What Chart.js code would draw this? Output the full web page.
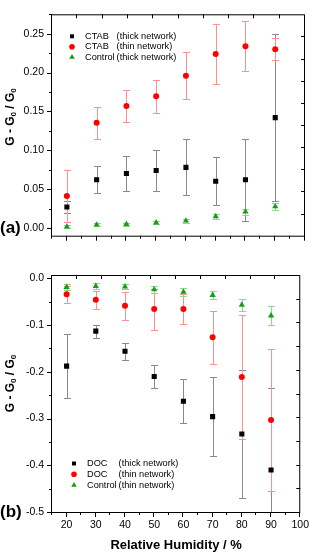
<!DOCTYPE html>
<html>
<head>
<meta charset="utf-8">
<script src="https://cdn.jsdelivr.net/npm/chart.js@4/dist/chart.umd.min.js"></script>
<style>
  html, body { margin: 0; padding: 0; background: #fff; }
  #wrap { position: relative; width: 316px; height: 553px; overflow: hidden; }
  .panel { position: absolute; left: 0; width: 316px; }
  #panelA { top: 0; height: 250px; }
  #panelB { top: 250px; height: 303px; }
</style>
</head>
<body>
<div id="wrap">
  <div class="panel" id="panelA"><canvas id="chartA" width="316" height="250"></canvas></div>
  <div class="panel" id="panelB"><canvas id="chartB" width="316" height="303"></canvas></div>
</div>
<script>
// ---------------- data ----------------
const humidity = [20, 30, 40, 50, 60, 70, 80, 90];

// panel (a)
const ctabThick       = [0.027, 0.062, 0.070, 0.074, 0.078, 0.060, 0.062, 0.142];
const ctabThickErr    = [0.008, 0.0175, 0.022, 0.026, 0.036, 0.031, 0.053, 0.107];
const ctabThin        = [0.041, 0.1355, 0.157, 0.1695, 0.196, 0.224, 0.234, 0.230];
const ctabThinErr     = [0.033, 0.0205, 0.020, 0.021, 0.030, 0.039, 0.032, 0.014];
const controlThick    = [0.0016, 0.004, 0.0048, 0.0068, 0.0092, 0.0148, 0.0208, 0.0276];
const controlThickErr = [0.002, 0.002, 0.002, 0.002, 0.0025, 0.003, 0.004, 0.004];

// panel (b)
const docThick        = [-0.188, -0.113, -0.156, -0.210, -0.263, -0.296, -0.333, -0.410];
const docThickErr     = [0.069, 0.014, 0.018, 0.025, 0.047, 0.084, 0.137, 0.176];
const docThin         = [-0.034, -0.046, -0.059, -0.066, -0.066, -0.126, -0.211, -0.303];
const docThinErr      = [0.018, 0.019, 0.030, 0.044, 0.032, 0.057, 0.133, 0.152];
const controlThin     = [-0.019, -0.017, -0.018, -0.024, -0.029, -0.036, -0.057, -0.080];
const controlThinErr  = [0.007, 0.006, 0.006, 0.007, 0.008, 0.008, 0.012, 0.020];

const xTitle = 'Relative Humidity / %';

const FONT = '"Liberation Sans", Arial, sans-serif';

// -------------- helpers --------------
function points(vals) {
  return humidity.map((x, i) => ({ x, y: vals[i] }));
}

function series(label, vals, errs, style) {
  return Object.assign({
    label,
    data: points(vals),
    errors: errs,
    borderWidth: 0,
    pointBorderWidth: 0,
    showLine: false
  }, style);
}

const blackSq = { pointStyle: 'rect', pointRadius: 3.6, backgroundColor: '#000', errColor: '#8a8a8a', legendRadius: 2.8, order: 3 };
const redDot  = { pointStyle: 'circle', pointRadius: 3, backgroundColor: '#ff0000', errColor: '#ff8e8e', legendRadius: 2.8, order: 2 };
const greenTr = { pointStyle: 'triangle', pointRadius: 3.6, backgroundColor: '#13a013', errColor: '#8ed88e', legendRadius: 3.2, order: 1 };

// -------------- plugins --------------
const errorBars = {
  id: 'errorBars',
  beforeDatasetsDraw(chart) {
    const { ctx, chartArea: a, scales: { x, y } } = chart;
    ctx.save();
    ctx.beginPath();
    ctx.rect(a.left, a.top, a.right - a.left, a.bottom - a.top);
    ctx.clip();
    ctx.lineWidth = 1;
    chart.data.datasets.forEach(ds => {
      ctx.strokeStyle = ds.errColor;
      ds.data.forEach((p, i) => {
        const e = ds.errors[i];
        const px = Math.round(x.getPixelForValue(p.x)) + 0.5;
        const top = Math.round(y.getPixelForValue(p.y + e)) + 0.5;
        const bot = Math.round(y.getPixelForValue(p.y - e)) + 0.5;
        ctx.beginPath();
        ctx.moveTo(px, top); ctx.lineTo(px, bot);
        ctx.moveTo(px - 3.5, top); ctx.lineTo(px + 3.5, top);
        ctx.moveTo(px - 3.5, bot); ctx.lineTo(px + 3.5, bot);
        ctx.stroke();
      });
    });
    ctx.restore();
  }
};

function isMultiple(v, step) {
  const r = Math.abs(v / step - Math.round(v / step));
  return r < 1e-6;
}

const frameTicks = {
  id: 'frameTicks',
  afterDatasetsDraw(chart, args, opts) {
    const { ctx, chartArea: a, scales: { x, y } } = chart;
    ctx.save();
    ctx.strokeStyle = '#000';
    ctx.lineWidth = 1;
    ctx.strokeRect(a.left - 0.5, a.top + 0.5, a.right - a.left, a.bottom - a.top);
    ctx.beginPath();
    // bottom axis, outward
    for (let v = Math.ceil(x.min / opts.xMinor) * opts.xMinor; v <= x.max + 1e-9; v += opts.xMinor) {
      const px = Math.round(x.getPixelForValue(v)) - 0.5;
      const len = isMultiple(v, opts.xMajor) ? 5 : 3;
      ctx.moveTo(px, a.bottom); ctx.lineTo(px, a.bottom + len);
    }
    // left axis, outward
    for (let v = Math.ceil(y.min / opts.yMinor) * opts.yMinor; v <= y.max + 1e-9; v += opts.yMinor) {
      const py = Math.round(y.getPixelForValue(v)) + 0.5;
      const len = isMultiple(v, opts.yMajor) ? 5 : 3;
      ctx.moveTo(a.left, py); ctx.lineTo(a.left - len, py);
    }
    // top and right: ten equal divisions, inward
    const w = a.right - a.left, h = a.bottom - a.top;
    for (let i = 1; i < 10; i++) {
      const px = Math.round(a.left + w * i / 10) - 0.5;
      ctx.moveTo(px, a.top); ctx.lineTo(px, a.top + 4);
      const py = Math.round(a.top + h * i / 10) + 0.5;
      ctx.moveTo(a.right, py); ctx.lineTo(a.right - 4, py);
    }
    ctx.stroke();
    ctx.restore();
  }
};

const insetLegend = {
  id: 'insetLegend',
  afterDraw(chart, args, opts) {
    const { ctx, chartArea: a } = chart;
    ctx.save();
    ctx.font = '9.2px ' + FONT;
    ctx.textBaseline = 'middle';
    const x0 = a.left + opts.dx;
    const y0 = opts.fromBottom ? a.bottom - opts.dy : a.top + opts.dy;
    const textX = x0 + 13;
    const parenX = textX + ctx.measureText('Control').width + 2;
    chart.data.datasets.forEach((ds, i) => {
      const yy = y0 + i * opts.rowH;
      ctx.fillStyle = ds.backgroundColor;
      Chart.helpers.drawPoint(ctx, { pointStyle: ds.pointStyle, radius: ds.legendRadius, borderWidth: 0, rotation: 0 }, x0, yy);
      ctx.fillStyle = '#000';
      const cut = ds.label.indexOf(' (');
      ctx.fillText(ds.label.slice(0, cut), textX, yy);
      ctx.fillText(ds.label.slice(cut + 1), parenX, yy);
    });
    ctx.restore();
  }
};

const sideText = {
  id: 'sideText',
  afterDraw(chart, args, opts) {
    const { ctx, chartArea: a, scales: { y } } = chart;
    const parts = [['G - G', 12, 0], ['0', 8, 3], [' / G', 12, 0], ['0', 8, 3]];
    ctx.save();
    ctx.fillStyle = '#000';
    ctx.textBaseline = 'middle';
    ctx.translate(opts.x, (a.top + a.bottom) / 2 + opts.dy);
    ctx.rotate(-Math.PI / 2);
    let total = 0;
    parts.forEach(([t, s]) => { ctx.font = 'bold ' + s + 'px ' + FONT; total += ctx.measureText(t).width; });
    let cx = -total / 2;
    parts.forEach(([t, s, shift]) => {
      ctx.font = 'bold ' + s + 'px ' + FONT;
      ctx.fillText(t, cx, shift);
      cx += ctx.measureText(t).width;
    });
    ctx.restore();
    // panel tag
    ctx.save();
    ctx.fillStyle = '#000';
    ctx.font = 'bold 17px ' + FONT;
    ctx.textBaseline = 'middle';
    ctx.fillText(opts.tag, 0, y.getPixelForValue(opts.tagAt));
    ctx.restore();
  }
};

// -------------- shared options --------------
function yScale(min, max, step, digits) {
  return {
    type: 'linear', min, max,
    afterFit: s => { s.width = 52; },
    ticks: {
      stepSize: step, includeBounds: false, padding: 8, color: '#000',
      font: { family: FONT, size: 10.5 },
      callback: v => v.toFixed(digits)
    },
    grid: { display: false, drawTicks: false },
    border: { display: false }
  };
}

function xScale(showLabels, height) {
  return {
    type: 'linear', min: 15, max: 100,
    afterFit: s => { s.height = height; },
    ticks: {
      display: showLabels, stepSize: 10, includeBounds: false, padding: 7, color: '#000',
      maxRotation: 0, font: { family: FONT, size: 10.5 }
    },
    title: {
      display: showLabels, text: xTitle, color: '#000',
      padding: { top: 0, bottom: 0 },
      font: { family: FONT, size: 13, weight: 'bold' }
    },
    grid: { display: false, drawTicks: false },
    border: { display: false }
  };
}

// -------------- panel (a) --------------
new Chart(document.getElementById('chartA'), {
  type: 'scatter',
  data: {
    datasets: [
      series('CTAB (thick network)', ctabThick, ctabThickErr, blackSq),
      series('CTAB (thin network)', ctabThin, ctabThinErr, redDot),
      series('Control (thick network)', controlThick, controlThickErr, greenTr)
    ]
  },
  options: {
    responsive: false,
    animation: false,
    layout: { padding: { top: 2, right: 11, left: 0, bottom: 0 } },
    scales: {
      x: xScale(false, 11),
      y: yScale(-0.01, 0.275, 0.05, 2)
    },
    plugins: {
      legend: { display: false },
      tooltip: { enabled: false },
      frameTicks: { xMajor: 10, xMinor: 5, yMajor: 0.05, yMinor: 0.025 },
      insetLegend: { dx: 20, dy: 22, rowH: 10.4, fromBottom: false },
      sideText: { x: 11, dy: -8, tag: '(a)', tagAt: 0 }
    }
  },
  plugins: [errorBars, frameTicks, insetLegend, sideText]
});

// -------------- panel (b) --------------
new Chart(document.getElementById('chartB'), {
  type: 'scatter',
  data: {
    datasets: [
      series('DOC (thick network)', docThick, docThickErr, blackSq),
      series('DOC (thin network)', docThin, docThinErr, redDot),
      series('Control (thin network)', controlThin, controlThinErr, greenTr)
    ]
  },
  options: {
    responsive: false,
    animation: false,
    layout: { padding: { top: 25, right: 11, left: 0, bottom: 0 } },
    scales: {
      x: xScale(true, 41),
      y: yScale(-0.5, 0.007, 0.1, 1)
    },
    plugins: {
      legend: { display: false },
      tooltip: { enabled: false },
      frameTicks: { xMajor: 10, xMinor: 5, yMajor: 0.1, yMinor: 0.05 },
      insetLegend: { dx: 22, dy: 48.5, rowH: 10.8, fromBottom: true },
      sideText: { x: 11, dy: -10, tag: '(b)', tagAt: -0.5 }
    }
  },
  plugins: [errorBars, frameTicks, insetLegend, sideText]
});
</script>
</body>
</html>
